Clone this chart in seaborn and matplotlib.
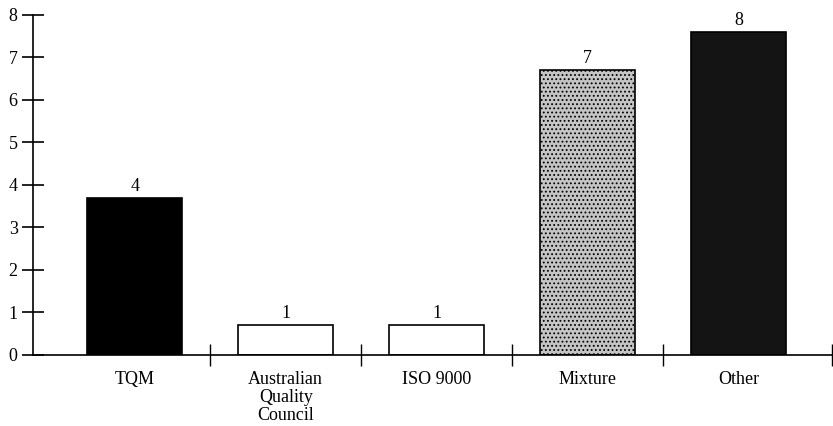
import matplotlib
matplotlib.use("Agg")
import matplotlib.pyplot as plt
import seaborn as sns
import pandas as pd

categories = ["TQM", "Australian\nQuality\nCouncil", "ISO 9000", "Mixture", "Other"]
bar_heights = [3.7, 0.7, 0.7, 6.7, 7.6]
count_labels = ["4", "1", "1", "7", "8"]
y_ticks = [0, 1, 2, 3, 4, 5, 6, 7, 8]

face_colors = ["#000000", "#ffffff", "#ffffff", "#c4c4c4", "#141414"]
hatches = [None, None, None, "....", None]

sns.set_theme(style="white")
plt.rcParams["font.family"] = ["Liberation Serif", "DejaVu Serif"]
plt.rcParams["hatch.linewidth"] = 0.8
plt.rcParams["text.color"] = "black"
plt.rcParams["xtick.color"] = "black"
plt.rcParams["ytick.color"] = "black"

df = pd.DataFrame({"cat": categories, "val": bar_heights})

fig = plt.figure(figsize=(8.33, 4.26), dpi=100)
ax = fig.add_axes([0.0396, 0.1667, 0.9592, 0.7981])

sns.barplot(data=df, x="cat", y="val", order=categories, width=0.63,
            color="white", edgecolor="black", linewidth=1.2, ax=ax)

for p, fc, h in zip(ax.patches, face_colors, hatches):
    p.set_facecolor(fc)
    p.set_edgecolor("black")
    if h:
        p.set_hatch(h)

for p, lab in zip(ax.patches, count_labels):
    ax.annotate(lab, (p.get_x() + p.get_width() / 2, p.get_height()),
                xytext=(0, 2), textcoords="offset points",
                ha="center", va="bottom", fontsize=13, color="black")

ax.set_xlim(-0.675, 4.62)
ax.set_ylim(0, 8)
ax.set_yticks(y_ticks)
ax.set_yticklabels([str(t) for t in y_ticks], fontsize=13)
ax.set_xlabel("")
ax.set_ylabel("")

ax.set_xticks(range(len(categories)))
ax.set_xticklabels(categories, fontsize=13, linespacing=1.08)
ax.set_xticks([0.5, 1.5, 2.5, 3.5, 4.62], minor=True)
ax.tick_params(axis="x", which="major", length=0, pad=11.5)
ax.tick_params(axis="x", which="minor", direction="inout", length=16,
               width=1.0, color="black", bottom=True)
ax.tick_params(axis="y", direction="inout", length=16, width=1.2,
               color="black", left=True, pad=3)

for s in ["top", "right"]:
    ax.spines[s].set_visible(False)
for s in ["left", "bottom"]:
    ax.spines[s].set_color("black")
    ax.spines[s].set_linewidth(1.2)

fig.savefig("out.png", dpi=100)
